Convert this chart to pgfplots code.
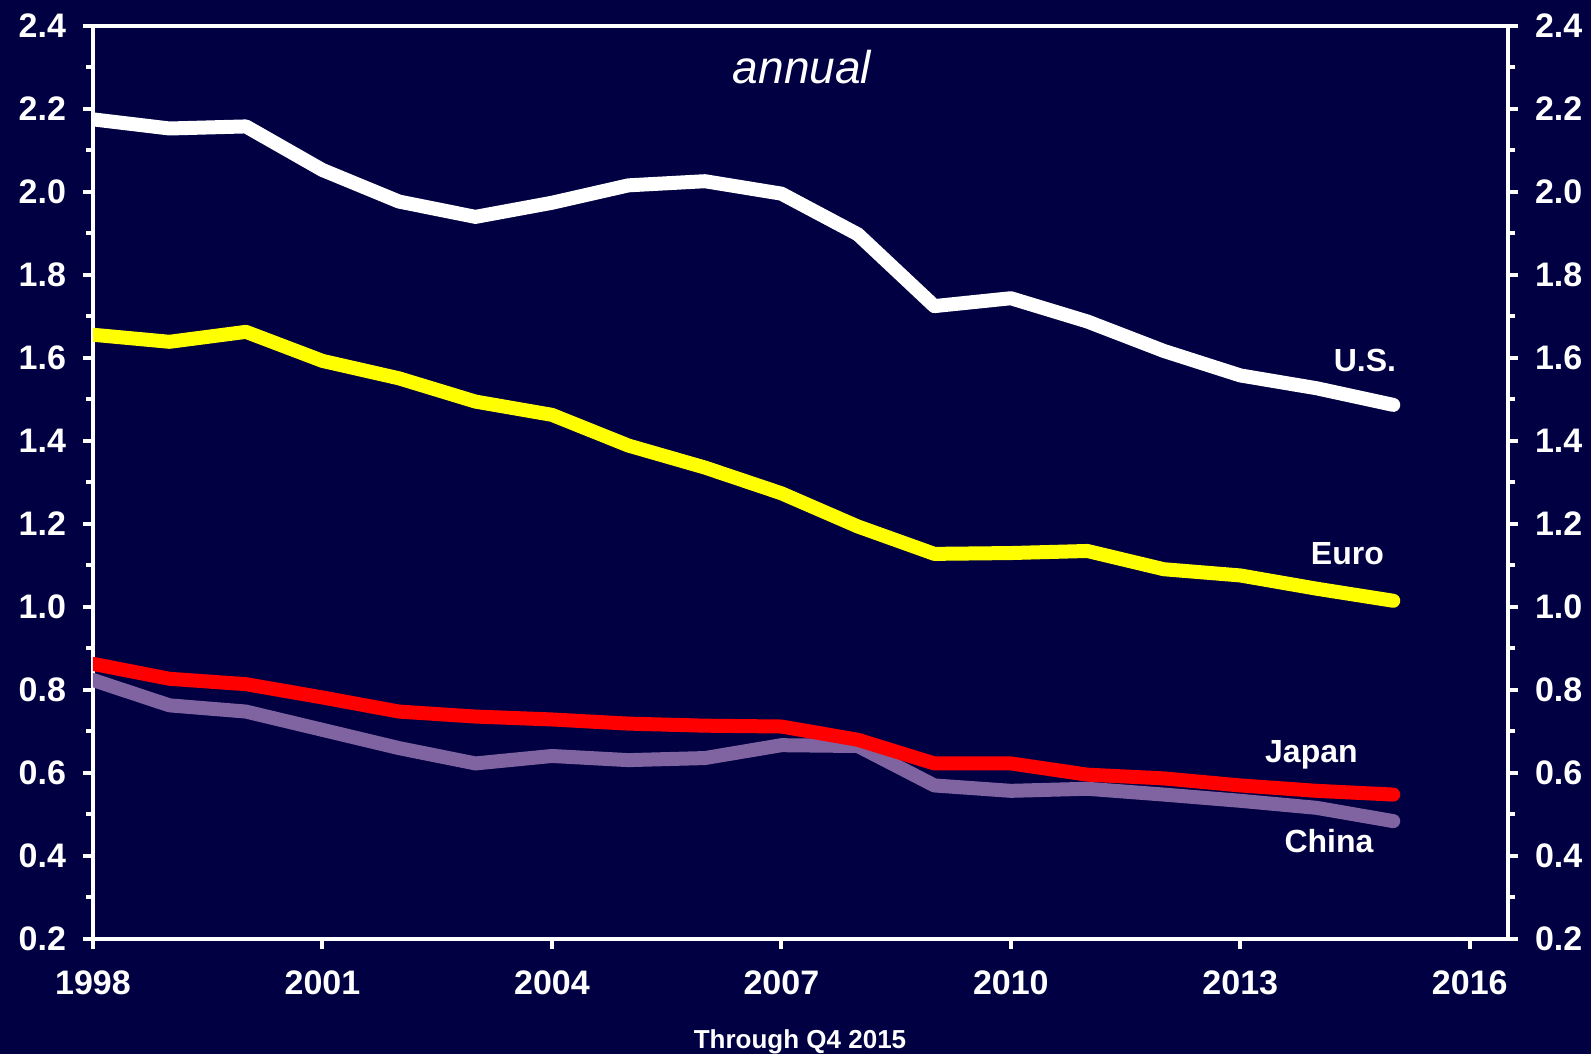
\documentclass[border=0pt]{standalone}
\usepackage{fontspec}
\setmainfont{Liberation Sans}
\usepackage{pgfplots}
\pgfplotsset{compat=1.18}
\definecolor{bg}{RGB}{0,0,66}
\definecolor{cus}{RGB}{255,255,255}
\definecolor{ceu}{RGB}{255,255,0}
\definecolor{cjp}{RGB}{255,0,0}
\definecolor{ccn}{RGB}{128,100,162}
\pgfplotsset{
  basestyle/.style={
    at={(46.5pt,57.5pt)}, anchor=south west, scale only axis,
    width=707.5pt, height=456.5pt,
    xmin=1998, xmax=2016.5, ymin=0.2, ymax=2.4,
    xtick={1998,2001,2004,2007,2010,2013,2016},
    ytick={0.2,0.4,0.6,0.8,1.0,1.2,1.4,1.6,1.8,2.0,2.2,2.4},
    minor ytick={0.3,0.5,0.7,0.9,1.1,1.3,1.5,1.7,1.9,2.1,2.3},
    tick align=outside,
    major tick length=5pt, minor tick length=3.5pt,
    every tick/.style={white, line width=2pt},
    axis line style={white, line width=2pt},
    ticklabel style={text=white, font=\fontsize{17}{20}\selectfont\bfseries},
    /pgf/number format/assume math mode=true,
    xticklabel style={/pgf/number format/1000 sep={}, yshift=-7.5pt},
    yticklabel style={/pgf/number format/fixed, /pgf/number format/precision=1, /pgf/number format/fixed zerofill},
  }
}
\begin{document}
\begin{tikzpicture}[x=1pt,y=1pt]
\fill[bg] (0,0) rectangle (795.5,527);
\useasboundingbox (0,0) rectangle (795.5,527);
\begin{axis}[basestyle,
  xtick pos=bottom, ytick pos=both, yticklabel pos=left,
  yticklabel style={xshift=-5pt}]
\addplot[ccn, line width=7pt, line join=round, line cap=round] coordinates {
(1998,0.824) (1999,0.763) (2000,0.748) (2001,0.704) (2002,0.660) (2003,0.623)
(2004,0.641) (2005,0.631) (2006,0.636) (2007,0.667) (2008,0.665) (2009,0.570)
(2010,0.557) (2011,0.562) (2012,0.548) (2013,0.533) (2014,0.516) (2015,0.484)};
\addplot[cjp, line width=7pt, line join=round, line cap=round] coordinates {
(1998,0.863) (1999,0.827) (2000,0.814) (2001,0.782) (2002,0.748) (2003,0.736)
(2004,0.729) (2005,0.719) (2006,0.714) (2007,0.712) (2008,0.680) (2009,0.623)
(2010,0.623) (2011,0.596) (2012,0.587) (2013,0.570) (2014,0.557) (2015,0.548)};
\addplot[ceu, line width=7pt, line join=round, line cap=round] coordinates {
(1998,1.656) (1999,1.639) (2000,1.663) (2001,1.593) (2002,1.551) (2003,1.495)
(2004,1.463) (2005,1.389) (2006,1.336) (2007,1.274) (2008,1.194) (2009,1.128)
(2010,1.130) (2011,1.135) (2012,1.091) (2013,1.076) (2014,1.044) (2015,1.015)};
\addplot[cus, line width=7pt, line join=round, line cap=round] coordinates {
(1998,2.175) (1999,2.153) (2000,2.158) (2001,2.053) (2002,1.977) (2003,1.940)
(2004,1.974) (2005,2.016) (2006,2.026) (2007,1.996) (2008,1.898) (2009,1.725)
(2010,1.744) (2011,1.688) (2012,1.617) (2013,1.558) (2014,1.527) (2015,1.487)};
\node[text=white, font=\fontsize{23}{27}\selectfont\itshape] at (axis cs:2007.27,2.30) {annual};
\node[text=white, font=\fontsize{16}{19}\selectfont\bfseries] at (axis cs:2014.63,1.593) {U.S.};
\node[text=white, font=\fontsize{16}{19}\selectfont\bfseries] at (axis cs:2014.40,1.128) {Euro};
\node[text=white, font=\fontsize{16}{19}\selectfont\bfseries] at (axis cs:2013.93,0.643) {Japan};
\node[text=white, font=\fontsize{16}{19}\selectfont\bfseries] at (axis cs:2014.16,0.436) {China};
\end{axis}
\begin{axis}[basestyle,
  axis x line=none, axis y line*=right,
  ytick pos=right, yticklabel pos=right,
  yticklabel style={xshift=5pt}]
\addplot[draw=none] coordinates {(1998,1)};
\end{axis}
\node[text=white, font=\fontsize{13}{15}\selectfont\bfseries] at (400,6) {Through Q4 2015};
\end{tikzpicture}
\end{document}
